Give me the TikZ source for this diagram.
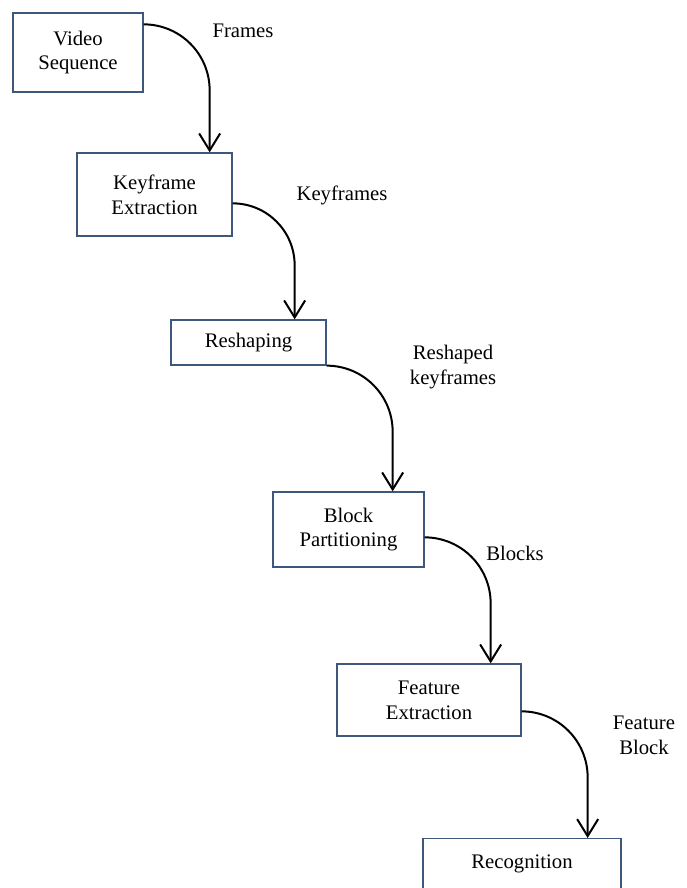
\documentclass[tikz,border=0pt]{standalone}
\usepackage{fontspec}
\setmainfont{Liberation Serif}
\usetikzlibrary{arrows.meta,calc}
\definecolor{boxline}{RGB}{62,88,125}
\tikzset{
  stage/.style={draw=boxline, line width=1.3pt, align=center, inner sep=0pt,
    font=\fontsize{20.7}{24.8}\selectfont},
  lbl/.style={align=center, inner sep=0pt, font=\fontsize{20.7}{24.8}\selectfont},
  arr/.style={line width=2pt, -{Straight Barb[length=17pt,width=21pt,line width=2pt]}}
}
\begin{document}
\begin{tikzpicture}[x=1pt,y=-1pt]
\useasboundingbox (0,0) rectangle (687,888);
\clip (0,0) rectangle (687,888);
% stages
\node[stage, minimum width=130pt, minimum height=79pt] (vs) at (78,52.5) {Video\\Sequence};
\node[stage, minimum width=155pt, minimum height=83pt] (ke) at (154.5,194.5) {Keyframe\\Extraction};
\node[stage, minimum width=155pt, minimum height=45pt] (rs) at (248.5,342.5) {Reshaping};
\node[stage, minimum width=151pt, minimum height=75pt] (bp) at (348.5,529.5) {Block\\Partitioning};
\node[stage, minimum width=184pt, minimum height=72pt] (fe) at (429,700) {Feature\\Extraction};
\node[stage, anchor=north, minimum width=198pt, text height=30pt, text depth=30pt] (rc) at (522,838) {Recognition};
% labels
\node[lbl] (l1) at (243,31) {Frames};
\node[lbl] (l2) at (342,195) {Keyframes};
\node[lbl] (l3) at (453,367) {Reshaped\\keyframes};
\node[lbl] (l4) at (515,553) {Blocks};
\node[lbl] (l5) at (644,735) {Feature\\Block};
% connector start points and columns
\coordinate (s1) at ($(vs.north east)+(0,12)$);
\coordinate (c1) at ($(s1)+(66,0)$);
\coordinate (s2) at ($(ke.north east)+(0,51)$);
\coordinate (c2) at ($(s2)+(62,0)$);
\coordinate (s3) at (rs.south east);
\coordinate (c3) at ($(s3)+(66,0)$);
\coordinate (s4) at ($(bp.north east)+(0,46)$);
\coordinate (c4) at ($(s4)+(66,0)$);
\coordinate (s5) at ($(fe.north east)+(0,48)$);
\coordinate (c5) at ($(s5)+(66,0)$);
% connectors
\draw[arr] (s1) arc[start angle=90, end angle=0, radius=66pt] -- (c1 |- ke.north);
\draw[arr] (s2) arc[start angle=90, end angle=0, radius=62pt] -- (c2 |- rs.north);
\draw[arr] (s3) arc[start angle=90, end angle=0, radius=66pt] -- (c3 |- bp.north);
\draw[arr] (s4) arc[start angle=90, end angle=0, radius=66pt] -- (c4 |- fe.north);
\draw[arr] (s5) arc[start angle=90, end angle=0, radius=66pt] -- (c5 |- rc.north);
\end{tikzpicture}
\end{document}
